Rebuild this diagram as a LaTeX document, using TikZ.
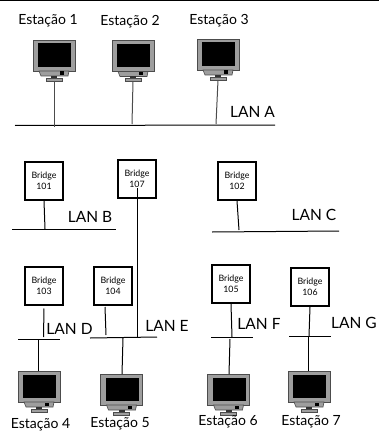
\documentclass[tikz,border=0pt]{standalone}
\usepackage{fontspec}
\setmainfont{Lato}
\usepackage{xcolor}
\usetikzlibrary{positioning}
\tikzset{
  estacao/.pic={
    \draw[black!70,line width=.8pt,fill=black!38] (0,0) rectangle (42,31);
    \fill[black] (5,3.5) rectangle (38,27);
    \draw[black!70,fill=black!38,line width=.6pt] (6,31) -- (36,31) -- (35,36) -- (8,36) -- cycle;
    \fill[black] (27,31.5) rectangle (31,35);
    \fill[black!80] (18,36) rectangle (24,38);
    \draw[black!70,fill=black!38,line width=.8pt] (13,38) rectangle (29,41);
    \coordinate (-foot) at (21,41);
  },
  bridge/.style={draw,line width=2pt,minimum size=38pt,inner sep=0pt,align=center,
    font=\fontsize{8.8}{10.5}\selectfont},
  rotulo/.style={font=\fontsize{14}{16}\selectfont},
  rotulolan/.style={font=\fontsize{15.5}{17}\selectfont},
  lan/.style={line width=1pt},
  ramal/.style={line width=1pt}
}
\begin{document}
\begin{tikzpicture}[x=1pt,y=-1pt]
  \useasboundingbox (0,0) rectangle (379,433);
  \fill[black] (0,0) rectangle (379,1);
  % estacoes
  \pic (m1) at (33,40) {estacao};
  \pic (m2) at (112,40.5) {estacao};
  \pic (m3) at (197,39) {estacao};
  \pic (m4) at (18,371) {estacao};
  \pic (m5) at (100.5,374) {estacao};
  \pic (m6) at (207.5,374) {estacao};
  \pic (m7) at (288,371) {estacao};
  \coordinate (m4top) at (38,371);
  \coordinate (m5top) at (122,374);
  \coordinate (m6top) at (229,374);
  \coordinate (m7top) at (308,371);
  \node[rotulo] (e1) at (48,21) {Estação 1};
  \node[rotulo] (e2) at (130,22) {Estação 2};
  \node[rotulo] (e3) at (219,21) {Estação 3};
  \node[rotulo] (e4) at (40.5,425) {Estação 4};
  \node[rotulo] (e5) at (120,424) {Estação 5};
  \node[rotulo] (e6) at (228,422) {Estação 6};
  \node[rotulo] (e7) at (311,422) {Estação 7};
  % bridges
  \node[bridge] (b101) at (44,181) {Bridge\\101};
  \node[bridge] (b107) at (137,179) {Bridge\\107};
  \node[bridge] (b102) at (237,181) {Bridge\\102};
  \node[bridge] (b103) at (44,286) {Bridge\\103};
  \node[bridge] (b104) at (113,286) {Bridge\\104};
  \node[bridge] (b105) at (231,284) {Bridge\\105};
  \node[bridge] (b106) at (310,287) {Bridge\\106};
  % LANs
  \coordinate (lanaw) at (15,125.5); \coordinate (lanae) at (275,125);
  \coordinate (lanbw) at (12,229);   \coordinate (lanbe) at (116,229);
  \coordinate (lancw) at (212,232);  \coordinate (lance) at (339,231);
  \coordinate (landw) at (18,339);   \coordinate (lande) at (60,339);
  \coordinate (laneW) at (90,338);   \coordinate (laneE) at (157,337);
  \coordinate (lanfw) at (211,337);  \coordinate (lanfe) at (253,337);
  \coordinate (langw) at (289,336);  \coordinate (lange) at (331,336);
  \draw[lan] (lanaw) -- (lanae);
  \draw[lan] (lanbw) -- (lanbe);
  \draw[lan] (lancw) -- (lance);
  \draw[lan] (landw) -- (lande);
  \draw[lan] (laneW) -- (laneE);
  \draw[lan] (lanfw) -- (lanfe);
  \draw[lan] (langw) -- (lange);
  \node[rotulolan] (la) at (252.5,112) {LAN A};
  \node[rotulolan] (lb) at (90,217) {LAN B};
  \node[rotulolan] (lc) at (314,215) {LAN C};
  \node[rotulolan] (ld) at (69.5,329) {LAN D};
  \node[rotulolan] (le) at (167,326) {LAN E};
  \node[rotulolan] (lf) at (259,324) {LAN F};
  \node[rotulolan] (lg) at (354,323) {LAN G};
  % ramais
  \coordinate (ta1) at (54,127);  \coordinate (ta2) at (132,124); \coordinate (ta3) at (216,124);
  \coordinate (tb) at (45,229);   \coordinate (tc) at (239,230);
  \coordinate (td) at (43.5,337); \coordinate (te4) at (106,335); \coordinate (te7) at (137,337);
  \coordinate (tf) at (232,337);  \coordinate (tg) at (309,336);
  \coordinate (sd) at (38,339);   \coordinate (se) at (123,338);
  \coordinate (sf) at (230,339);  \coordinate (sg) at (308,337);
  \draw[ramal,black!70] (m1-foot) -- (ta1);
  \draw[ramal,black!70] (m2-foot) -- (ta2);
  \draw[ramal,black!70] (m3-foot) -- (ta3);
  \draw[ramal] (b101.south) -- (tb);
  \draw[ramal] (b102.south) -- (tc);
  \draw[ramal] ([yshift=-2.5pt]b103.south) -- (td);
  \draw[ramal] ([xshift=-8pt,yshift=-1pt]b104.south) -- (te4);
  \draw[ramal] ([yshift=-9pt]b107.center) -- (te7);
  \draw[ramal] (b105.south) -- (tf);
  \draw[ramal] (b106.south) -- (tg);
  \draw[ramal] (sd) -- (m4top);
  \draw[ramal] (se) -- (m5top);
  \draw[ramal] (sf) -- (m6top);
  \draw[ramal] (sg) -- (m7top);
\end{tikzpicture}
\end{document}
